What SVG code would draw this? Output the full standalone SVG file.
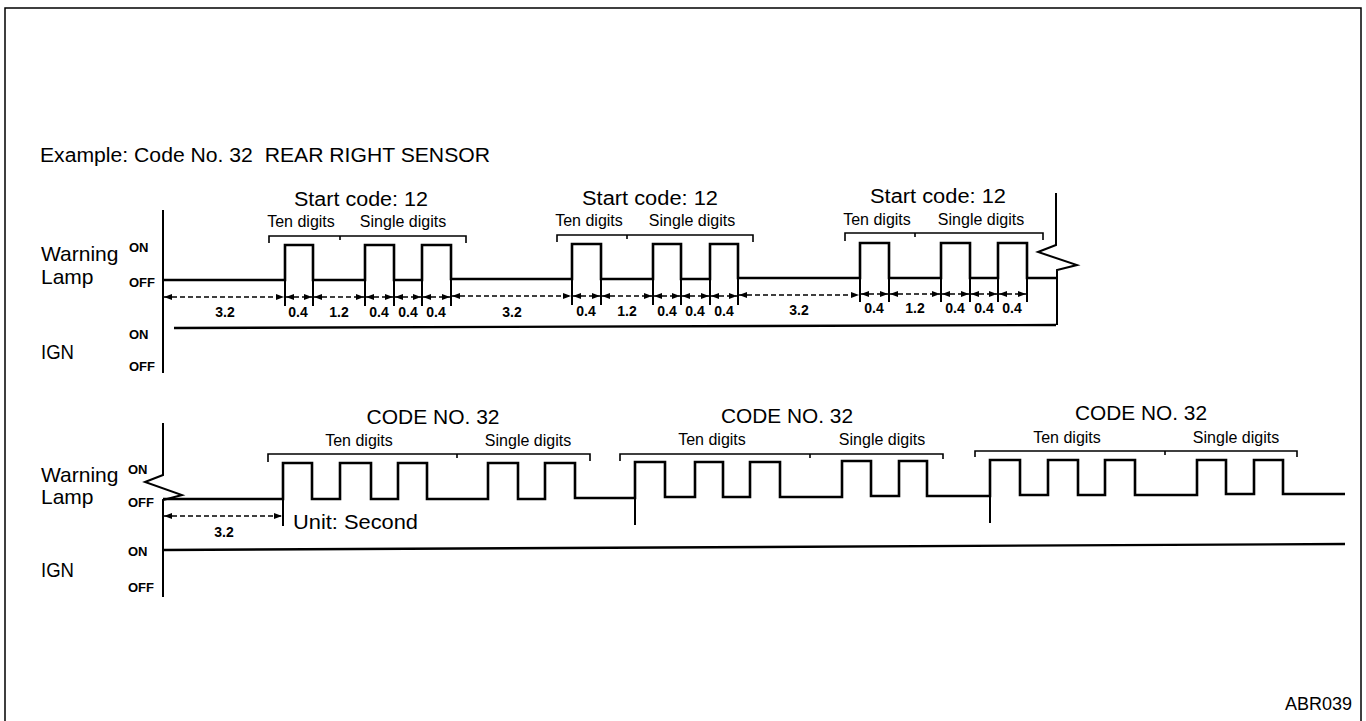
<svg xmlns="http://www.w3.org/2000/svg" width="1366" height="721" viewBox="0 0 1366 721">
<style>
text{font-family:"Liberation Sans",Arial,sans-serif;fill:#000}
.big{font-size:20px}
.lbl{font-size:21px}
.sm{font-size:16px}
.lv{font-size:13px;font-weight:bold}
.dim{font-size:14px;font-weight:bold}
.mid{text-anchor:middle}
.frame{fill:none;stroke:#000;stroke-width:1.5}
.axis{fill:none;stroke:#000;stroke-width:2}
.sig{fill:none;stroke:#000;stroke-width:2.6;stroke-linejoin:miter}
.ign{fill:none;stroke:#000;stroke-width:2.4}
.brk{fill:none;stroke:#000;stroke-width:1.6}
.tick{fill:none;stroke:#000;stroke-width:2}
.dash{fill:none;stroke:#000;stroke-width:1.6;stroke-dasharray:5 3;marker-start:url(#ah);marker-end:url(#ah)}
</style>
<defs>
<marker id="ah" viewBox="0 0 8 6" refX="8" refY="3" markerWidth="8" markerHeight="6" markerUnits="userSpaceOnUse" orient="auto-start-reverse">
<path d="M0,0 L8,3 L0,6 z" fill="#000"/>
</marker>
</defs>
<rect width="1366" height="721" fill="#fff"/>
<g id="frame">
<path class="frame" d="M5,721 V8 H1361 V721"/>
</g>
<g id="title">
<text class="big" x="40" y="162" xml:space="preserve" textLength="450" lengthAdjust="spacingAndGlyphs">Example: Code No. 32  REAR RIGHT SENSOR</text>
<text x="1285" y="710" style="font-size:18px">ABR039</text>
</g>

<!-- TOP CHART -->
<g id="top-labels">
<text class="lbl" x="41" y="261">Warning</text>
<text class="lbl" x="41" y="284">Lamp</text>
<text class="lv" x="129" y="252">ON</text>
<text class="lv" x="129" y="287">OFF</text>
<text class="lv" x="129" y="339">ON</text>
<text class="lbl" x="41" y="359" textLength="33" lengthAdjust="spacingAndGlyphs">IGN</text>
<text class="lv" x="129" y="371">OFF</text>
</g>
<g id="top-headings">
<text class="big mid" x="361" y="206" textLength="134" lengthAdjust="spacingAndGlyphs">Start code: 12</text>
<text class="sm mid" x="301" y="227">Ten digits</text>
<text class="sm mid" x="403" y="227">Single digits</text>
<text class="big mid" x="650" y="205" textLength="136" lengthAdjust="spacingAndGlyphs">Start code: 12</text>
<text class="sm mid" x="589" y="226">Ten digits</text>
<text class="sm mid" x="692" y="226">Single digits</text>
<text class="big mid" x="938" y="203" textLength="136" lengthAdjust="spacingAndGlyphs">Start code: 12</text>
<text class="sm mid" x="877" y="225">Ten digits</text>
<text class="sm mid" x="981" y="225">Single digits</text>
</g>
<g id="top-brackets">
<path class="brk" d="M269,243 V236 H466 V243 M340,236 V240"/>
<path class="brk" d="M557,242 V235 H753 V242 M627,235 V239"/>
<path class="brk" d="M845,241 V233 H1043 V240 M915,233 V237"/>
</g>
<g id="top-signals">
<path class="axis" d="M163,210 V373"/>
<path class="sig" d="M163,280 H285 V245 H313 V280 H365 V245 H394 V280 H422 V245 H451 V279 H572 V244 H601 V279 H653 V244 H681 V279 H710 V244 H738 V278 H860 V243 H889 V278 H941 V243 H970 V278 H998 V243 H1027 V278 H1056"/>
<path class="axis" d="M1056,193 V245 L1038,252 L1077,265 L1057,270 V325"/>
<path class="ign" d="M174,328 L1056,325"/>
</g>
<g id="top-dimensions">
<path class="tick" d="M285,280 V306 M313,280 V306 M365,280 V306 M394,280 V306 M422,280 V306 M451,279 V306 M572,279 V305 M601,279 V305 M653,279 V305 M681,279 V305 M710,279 V305 M738,278 V305 M860,278 V302 M889,278 V302 M941,278 V302 M970,278 V302 M998,278 V302 M1027,278 V302"/>
<line class="dash" x1="164" y1="297" x2="284" y2="297"/>
<line class="dash" x1="286" y1="297" x2="312" y2="297"/>
<line class="dash" x1="314" y1="297" x2="364" y2="297"/>
<line class="dash" x1="366" y1="297" x2="393" y2="297"/>
<line class="dash" x1="395" y1="297" x2="421" y2="297"/>
<line class="dash" x1="423" y1="297" x2="450" y2="297"/>
<line class="dash" x1="452" y1="296" x2="571" y2="296"/>
<line class="dash" x1="573" y1="296" x2="600" y2="296"/>
<line class="dash" x1="602" y1="296" x2="652" y2="296"/>
<line class="dash" x1="654" y1="296" x2="680" y2="296"/>
<line class="dash" x1="682" y1="296" x2="709" y2="296"/>
<line class="dash" x1="711" y1="296" x2="737" y2="296"/>
<line class="dash" x1="739" y1="295" x2="859" y2="295"/>
<line class="dash" x1="861" y1="294" x2="888" y2="294"/>
<line class="dash" x1="890" y1="294" x2="940" y2="294"/>
<line class="dash" x1="942" y1="294" x2="969" y2="294"/>
<line class="dash" x1="971" y1="294" x2="997" y2="294"/>
<line class="dash" x1="999" y1="294" x2="1026" y2="294"/>
<text class="dim mid" x="225" y="317">3.2</text>
<text class="dim mid" x="298" y="317">0.4</text>
<text class="dim mid" x="339" y="317">1.2</text>
<text class="dim mid" x="379" y="317">0.4</text>
<text class="dim mid" x="408" y="317">0.4</text>
<text class="dim mid" x="436" y="317">0.4</text>
<text class="dim mid" x="512" y="317">3.2</text>
<text class="dim mid" x="586" y="316">0.4</text>
<text class="dim mid" x="627" y="316">1.2</text>
<text class="dim mid" x="667" y="316">0.4</text>
<text class="dim mid" x="695" y="316">0.4</text>
<text class="dim mid" x="724" y="316">0.4</text>
<text class="dim mid" x="799" y="315">3.2</text>
<text class="dim mid" x="874" y="313">0.4</text>
<text class="dim mid" x="915" y="313">1.2</text>
<text class="dim mid" x="955" y="313">0.4</text>
<text class="dim mid" x="984" y="313">0.4</text>
<text class="dim mid" x="1012" y="313">0.4</text>
</g>

<!-- BOTTOM CHART -->
<g id="bottom-labels">
<text class="lbl" x="41" y="482">Warning</text>
<text class="lbl" x="41" y="504">Lamp</text>
<text class="lv" x="128" y="474">ON</text>
<text class="lv" x="128" y="507">OFF</text>
<text class="lv" x="128" y="556">ON</text>
<text class="lbl" x="41" y="577" textLength="33" lengthAdjust="spacingAndGlyphs">IGN</text>
<text class="lv" x="128" y="592">OFF</text>
</g>
<g id="bottom-headings">
<text class="big mid" x="433" y="424" textLength="133" lengthAdjust="spacingAndGlyphs">CODE NO. 32</text>
<text class="sm mid" x="359" y="446">Ten digits</text>
<text class="sm mid" x="528" y="446">Single digits</text>
<text class="big mid" x="787" y="423" textLength="132" lengthAdjust="spacingAndGlyphs">CODE NO. 32</text>
<text class="sm mid" x="712" y="445">Ten digits</text>
<text class="sm mid" x="882" y="445">Single digits</text>
<text class="big mid" x="1141" y="420" textLength="132" lengthAdjust="spacingAndGlyphs">CODE NO. 32</text>
<text class="sm mid" x="1067" y="443">Ten digits</text>
<text class="sm mid" x="1236" y="443">Single digits</text>
</g>
<g id="bottom-brackets">
<path class="brk" d="M268,462 V454 H590 V461 M457,454 V458"/>
<path class="brk" d="M620,461 V454 H943 V459 M810,454 V458"/>
<path class="brk" d="M975,457 V451 H1297 V457 M1165,451 V455"/>
</g>
<g id="bottom-signals">
<path class="axis" d="M163,423 V475 L145,482 L182,495 L163,500 V597"/>
<path class="sig" d="M163,499 H283 V463 H312 V499 H340 V463 H371 V499 H398 V463 H427 V499 H488 V463 H518 V499 H545 V463 H575 V498 H635 V462 H665 V497 H695 V462 H723 V497 H750 V462 H780 V497 H842 V461 H871 V496 H899 V461 H927 V496 H990 V460 H1020 V495 H1048 V460 H1078 V495 H1105 V460 H1135 V495 H1197 V460 H1226 V494 H1254 V460 H1283 V494 H1345"/>
<path class="tick" d="M283,499 V526 M635,498 V525 M990,495 V523"/>
<path class="ign" d="M163,550 L1345,544"/>
</g>
<g id="bottom-dimensions">
<line class="dash" x1="164" y1="516" x2="282" y2="516"/>
<text class="dim mid" x="224" y="537">3.2</text>
<text class="big" x="293" y="529" textLength="125" lengthAdjust="spacingAndGlyphs">Unit: Second</text>
</g>
</svg>
